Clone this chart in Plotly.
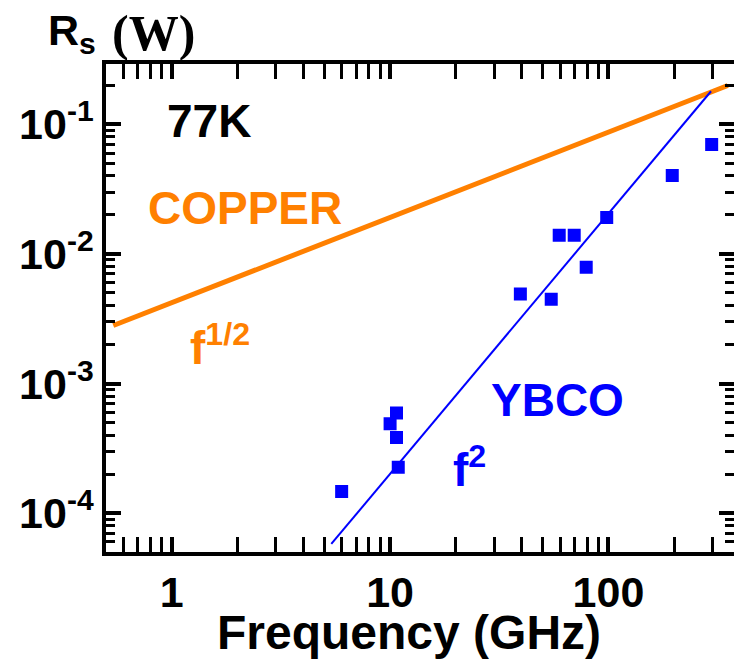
import plotly.graph_objects as go
import numpy as np

# YBCO measured surface resistance (GHz, Ohm)
ybco_freq = [6.0, 10.9, 10.7, 10.0, 10.7, 39.5, 54.7, 59.5, 69.7, 79.1, 98.2, 196, 297]
ybco_rs = [1.47e-4, 2.26e-4, 3.83e-4, 4.9e-4, 5.93e-4, 4.91e-3, 4.46e-3, 1.39e-2, 1.39e-2, 7.88e-3, 1.905e-2, 4.02e-2, 6.97e-2]

# f^2 guide line endpoints
f2_freq = [5.38, 295]
f2_rs = [5.78e-5, 0.1798]

# copper f^1/2 line endpoints
cu_freq = [0.54, 352]
cu_rs = [2.8e-3, 0.199]

x_tickvals = [1, 10, 100]
x_ticktext = ["1", "10", "100"]
y_tickvals = [1e-4, 1e-3, 1e-2, 1e-1]
y_ticktext = ["10<sup>-4</sup>", "10<sup>-3</sup>", "10<sup>-2</sup>", "10<sup>-1</sup>"]
x_range = [np.log10(0.5), 2.575]
y_range = [-4.30, -0.535]

ORANGE = "#FF8000"
BLUE = "#0000FF"
FONT = "Liberation Sans"

OFF = 0  # page body margin removed in post_script
W, H = 734 - OFF, 661 - OFF
L, R, T, B = 106 - OFF, 0, 64 - OFF, 109
pw, ph = W - L - R, H - T - B

def px(x):
    return (x - OFF - L) / pw

def py(y):
    return (H - B - (y - OFF)) / ph

fig = go.Figure()
fig.add_trace(go.Scatter(x=cu_freq, y=cu_rs, mode="lines",
                         line=dict(color=ORANGE, width=5), showlegend=False))
fig.add_trace(go.Scatter(x=f2_freq, y=f2_rs, mode="lines",
                         line=dict(color=BLUE, width=2), showlegend=False))
fig.add_trace(go.Scatter(x=ybco_freq, y=ybco_rs, mode="markers",
                         marker=dict(symbol="square", size=11, color=BLUE,
                                     line=dict(color=BLUE, width=2)),
                         showlegend=False))
# empty trace so the right-hand tick axis is drawn
fig.add_trace(go.Scatter(x=[], y=[], yaxis="y2", showlegend=False,
                         hoverinfo="skip"))

tick_common = dict(
    type="log", showgrid=False, zeroline=False, automargin=False,
    ticks="inside", ticklen=15, tickwidth=3.5, tickcolor="black",
    minor=dict(ticks="inside", ticklen=9, tickwidth=3, tickcolor="black",
               dtick="D1", showgrid=False),
    tickfont=dict(family=FONT, size=43, color="black", weight="bold"),
)

fig.update_layout(
    xaxis=dict(range=x_range, tickvals=x_tickvals, ticktext=x_ticktext,
               showline=True, linecolor="black", linewidth=3.5,
               mirror="allticks", **tick_common),
    yaxis=dict(range=y_range, tickvals=y_tickvals, ticktext=y_ticktext,
               showline=True, linecolor="black", linewidth=3.5,
               **tick_common),
    yaxis2=dict(range=y_range, tickvals=y_tickvals, overlaying="y",
                side="right", showline=False, showticklabels=False,
                **tick_common),
)

def ann(text, x, y, color, size, xanchor="center", yanchor="middle",
        family=FONT, weight="bold"):
    fig.add_annotation(text=text, x=px(x), y=py(y), xref="paper", yref="paper",
                       xanchor=xanchor, yanchor=yanchor, showarrow=False,
                       font=dict(family=family, size=size, color=color,
                                 weight=weight))

ann("77K", 209, 121, "black", 46)
ann("COPPER", 245, 208, ORANGE, 46)
ann("f<sup>1/2</sup>", 188, 345, ORANGE, 46, xanchor="left")
ann("YBCO", 557, 400, BLUE, 46)
ann("f<sup>2</sup>", 451, 467, BLUE, 46, xanchor="left")
ann("Frequency (GHz)", 409, 632, "black", 48)
ann("R<sub>s</sub>", 46, 33, "black", 43, xanchor="left")
ann("(W)", 110, 33, "black", 50, xanchor="left", family="Liberation Serif",
    weight="bold")

fig.update_layout(
    width=W, height=H,
    margin=dict(l=L, r=R, t=T, b=B),
    paper_bgcolor="white", plot_bgcolor="white",
)

fig.write_html(
    "out.html",
    config={"displayModeBar": False},
    post_script="document.body.style.margin='0';"
                "document.documentElement.style.overflow='hidden';"
                "document.body.style.overflow='hidden';",
)
